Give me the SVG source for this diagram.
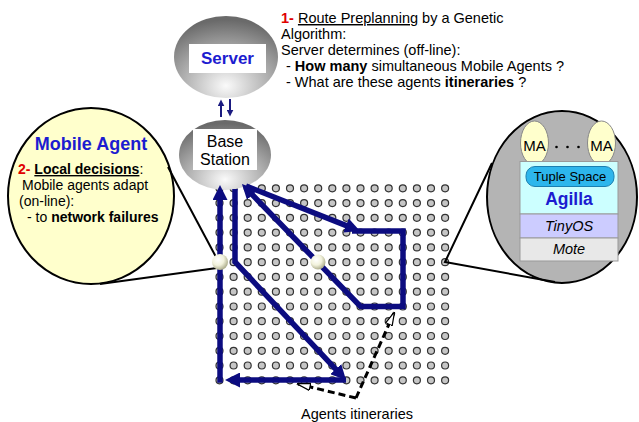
<svg xmlns="http://www.w3.org/2000/svg" width="639" height="422" viewBox="0 0 639 422">
<defs>
<style>
text{font-family:"Liberation Sans",Arial,sans-serif;fill:#000}
.t{font-size:14.5px}
.m{font-size:14px}
.b{font-weight:bold}
.red{fill:#e00000;font-weight:bold}
.blue{fill:#1c1cd0;font-weight:bold}
.u{text-decoration:underline}
.route{fill:none;stroke:#0c0c80;stroke-width:5.5;stroke-linejoin:miter;marker-end:url(#ah)}
.dash{fill:none;stroke:#000;stroke-width:3;stroke-dasharray:7 4;marker-end:url(#oh)}
.lens{fill:none;stroke:#000;stroke-width:2}
.dot{fill:#c6c6c6;stroke:#333;stroke-width:1.2}
.small{fill:none;stroke:#1a1a80;stroke-width:2;marker-end:url(#sa)}
.ma{fill:#ffffcc;stroke:#888;stroke-width:1}
</style>
<radialGradient id="gray" cx="0.5" cy="0.85" r="0.8">
<stop offset="0" stop-color="#fafafa"/><stop offset="1" stop-color="#6a6a6a"/>
</radialGradient>
<radialGradient id="pearl" cx="0.38" cy="0.35" r="0.65">
<stop offset="0" stop-color="#ffffff"/><stop offset="0.55" stop-color="#f2f2dc"/><stop offset="1" stop-color="#b0b090"/>
</radialGradient>
<marker id="ah" viewBox="0 0 10 10" refX="2" refY="5" markerWidth="15" markerHeight="15" markerUnits="userSpaceOnUse" orient="auto"><path d="M0,0 L10,5 L0,10 z" fill="#0c0c80"/></marker>
<marker id="oh" viewBox="0 0 10 10" refX="9" refY="5" markerWidth="14" markerHeight="9" markerUnits="userSpaceOnUse" orient="auto" preserveAspectRatio="none"><path d="M0,1 L10,5 L0,9 z" fill="#fff" stroke="#000" stroke-width="1.3"/></marker>
<marker id="sa" viewBox="0 0 10 10" refX="2" refY="5" markerWidth="7" markerHeight="7" markerUnits="userSpaceOnUse" orient="auto"><path d="M0,0 L10,5 L0,10 z" fill="#1a1a80"/></marker>
<g id="row">
<circle class="dot" cx="219.5" cy="0" r="3.5"/><circle class="dot" cx="233.6" cy="0" r="3.5"/><circle class="dot" cx="247.7" cy="0" r="3.5"/><circle class="dot" cx="261.8" cy="0" r="3.5"/><circle class="dot" cx="275.9" cy="0" r="3.5"/><circle class="dot" cx="290" cy="0" r="3.5"/><circle class="dot" cx="304.1" cy="0" r="3.5"/><circle class="dot" cx="318.2" cy="0" r="3.5"/><circle class="dot" cx="332.3" cy="0" r="3.5"/><circle class="dot" cx="346.4" cy="0" r="3.5"/><circle class="dot" cx="360.5" cy="0" r="3.5"/><circle class="dot" cx="374.6" cy="0" r="3.5"/><circle class="dot" cx="388.7" cy="0" r="3.5"/><circle class="dot" cx="402.8" cy="0" r="3.5"/><circle class="dot" cx="416.9" cy="0" r="3.5"/><circle class="dot" cx="431" cy="0" r="3.5"/><circle class="dot" cx="445.1" cy="0" r="3.5"/>
</g>
</defs>
<rect width="639" height="422" fill="#fff"/>

<g id="sensor-grid">
<use href="#row" y="188.3"/><use href="#row" y="203.1"/><use href="#row" y="217.8"/><use href="#row" y="232.6"/><use href="#row" y="247.4"/><use href="#row" y="262.2"/><use href="#row" y="276.9"/><use href="#row" y="291.7"/><use href="#row" y="306.5"/><use href="#row" y="321.2"/><use href="#row" y="336"/><use href="#row" y="350.8"/><use href="#row" y="365.5"/><use href="#row" y="380.3"/>
</g>

<g id="description">
<text class="t" x="281" y="23"><tspan class="red">1- </tspan><tspan class="u">Route Preplanning</tspan> by a Genetic</text>
<text class="t" x="281" y="39">Algorithm:</text>
<text class="t" x="281" y="55">Server determines (off-line):</text>
<text class="t" x="286" y="71">- <tspan class="b">How many</tspan> simultaneous Mobile Agents ?</text>
<text class="t" x="286" y="87">- What are these agents <tspan class="b">itineraries</tspan> ?</text>
</g>

<g id="server">
<ellipse cx="226" cy="57" rx="52" ry="41" fill="url(#gray)"/>
<rect x="189" y="44" width="77" height="29" fill="#fff"/>
<text class="blue" x="227.5" y="63.5" font-size="17" text-anchor="middle">Server</text>
</g>

<g id="base-station">
<ellipse cx="225" cy="155" rx="46" ry="35" fill="url(#gray)"/>
<rect x="193" y="129" width="64" height="41" fill="#fff"/>
<text x="225" y="147" font-size="16" text-anchor="middle">Base</text>
<text x="225" y="165" font-size="16" text-anchor="middle">Station</text>
</g>

<g id="mobile-agent">
<ellipse cx="91" cy="196" rx="83" ry="88" fill="#ffffcc" stroke="#000" stroke-width="2"/>
<text class="blue" x="91" y="150" font-size="18" text-anchor="middle">Mobile Agent</text>
<text class="m" x="18" y="174"><tspan class="red">2- </tspan><tspan class="b u">Local decisions</tspan>:</text>
<text class="m" x="22" y="190">Mobile agents adapt</text>
<text class="m" x="19" y="206">(on-line):</text>
<text class="m" x="27" y="222">- to <tspan class="b">network failures</tspan></text>
</g>

<g id="mote">
<ellipse cx="562" cy="197" rx="75" ry="86" fill="#b4b4b4" stroke="#000" stroke-width="2"/>
<ellipse class="ma" cx="534.5" cy="143" rx="14" ry="22"/>
<ellipse class="ma" cx="601.5" cy="143" rx="14" ry="22"/>
<text x="534.5" y="151" font-size="15" text-anchor="middle">MA</text>
<text x="601.5" y="151" font-size="15" text-anchor="middle">MA</text>
<circle cx="556.5" cy="147" r="1.3" fill="#000"/><circle cx="567.5" cy="147" r="1.3" fill="#000"/><circle cx="578.5" cy="147" r="1.3" fill="#000"/>
<rect x="520" y="161.5" width="98" height="52.5" fill="#ccffff" stroke="#999" stroke-width="1"/>
<rect x="520" y="214" width="98" height="24" fill="#ccccff" stroke="#999" stroke-width="1"/>
<rect x="520" y="238" width="98" height="23" fill="#e8e8e8" stroke="#999" stroke-width="1"/>
<rect x="526" y="166.5" width="88" height="20" rx="9" fill="#2db6ec" stroke="#1a7fb0" stroke-width="1"/>
<text x="570" y="181" font-size="13" text-anchor="middle">Tuple Space</text>
<text class="blue" x="569" y="205" font-size="17.5" text-anchor="middle">Agilla</text>
<text x="569" y="231" font-size="14.5" font-style="italic" text-anchor="middle">TinyOS</text>
<text x="569" y="254" font-size="14.5" font-style="italic" text-anchor="middle">Mote</text>
</g>

<g id="connectors">
<path class="small" d="M221,117 L221,105"/>
<path class="small" d="M230,99 L230,111"/>
<path class="route" d="M346,380 L237,380"/>
<path class="route" d="M220,382.7 L220,197"/>
<path class="route" d="M235,189 L235,262 L337.8,371.3"/>
<path class="route" d="M246,186 L348.8,226.6"/>
<path class="route" d="M352,231 L403,231 L403,306.5 L360.5,306.5 L250.3,192.6"/>
<path class="lens" d="M168,167 L216,257"/>
<path class="lens" d="M217,268 L100,284"/>
<path class="lens" d="M492,163 L445,262 L555,282"/>
<path class="dash" d="M356,398 L298,384"/>
<path class="dash" d="M356,398 L394,313"/>
</g>

<g id="agents">
<circle cx="220" cy="262" r="8" fill="url(#pearl)"/>
<circle cx="318" cy="262" r="7.5" fill="url(#pearl)"/>
</g>

<g id="label">
<text x="357" y="419" font-size="14.5" text-anchor="middle">Agents itineraries</text>
</g>
</svg>
